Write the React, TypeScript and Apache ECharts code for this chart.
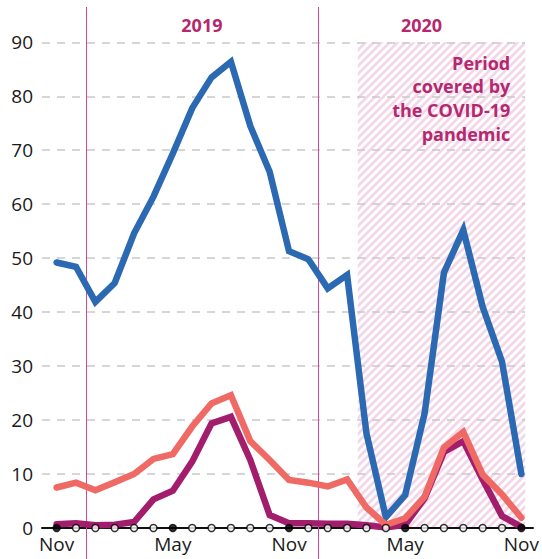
import React, { useEffect, useRef } from "react";
import * as echarts from "echarts";

// Months from Nov 2018 to Nov 2020
const months = [
  "Nov", "Dec", "Jan", "Feb", "Mar", "Apr", "May", "Jun", "Jul", "Aug", "Sep", "Oct",
  "Nov", "Dec", "Jan", "Feb", "Mar", "Apr", "May", "Jun", "Jul", "Aug", "Sep", "Oct", "Nov",
];
const labeledMonths = ["Nov", "May"];

const blueValues = [
  49.2, 48.4, 41.9, 45.4, 54.6, 61.4, 69.4, 77.8, 83.5, 86.4, 74.5, 66.0,
  51.3, 49.8, 44.4, 46.9, 17.5, 2.0, 6.1, 21.2, 47.3, 55.2, 41.0, 30.8, 10.0,
];
const purpleValues = [
  0.7, 0.9, 0.5, 0.6, 1.1, 5.3, 6.9, 12.3, 19.4, 20.6, 12.6, 2.4,
  0.9, 0.9, 0.8, 0.8, 0.5, 0.1, 0.6, 5.5, 14.1, 16.1, 9.0, 2.2, 0.2,
];
const salmonValues = [
  7.5, 8.4, 7.0, 8.5, 10.0, 12.8, 13.7, 18.8, 23.1, 24.6, 16.1, 12.6,
  8.9, 8.4, 7.7, 9.0, 3.8, 0.6, 1.8, 5.8, 14.9, 17.8, 9.9, 6.2, 1.9,
];

const yTicks = [0, 10, 20, 30, 40, 50, 60, 70, 80, 90];
const years = ["2019", "2020"];
const yearBoundaries = [1.5, 13.5]; // between Dec and Jan
const covidPeriod = [15.55, 24.2]; // mid-Feb 2020 onwards
const covidNote = "Period\ncovered by\nthe COVID-19\npandemic";

const X_MIN = -0.756;
const X_MAX = 24.6;
const GRID_END = 24.19;

const FONT = '"Open Sans", "Noto Sans", sans-serif';
const MAGENTA_TEXT = "#b5286f";
const MAGENTA_LINE = "#d6449a";

function makeHatch(): string {
  const t = 8;
  const cv = document.createElement("canvas");
  cv.width = t;
  cv.height = t;
  const ctx = cv.getContext("2d")!;
  ctx.fillStyle = "#ffffff";
  ctx.fillRect(0, 0, t, t);
  ctx.strokeStyle = "#f3d6e8";
  ctx.lineWidth = 2.7;
  ctx.beginPath();
  ctx.moveTo(-2, t + 2);
  ctx.lineTo(t + 2, -2);
  ctx.moveTo(-2, 2);
  ctx.lineTo(2, -2);
  ctx.moveTo(t - 2, t + 2);
  ctx.lineTo(t + 2, t - 2);
  ctx.stroke();
  return cv.toDataURL();
}

export default function App() {
  const ref = useRef<HTMLDivElement>(null);

  useEffect(() => {
    document.body.style.margin = "0";
    const chart = echarts.init(ref.current!, null, { renderer: "svg" });
    const hatch = makeHatch();
    const idx = months.map((_, i) => i);
    const toPairs = (vals: number[]) => vals.map((v, i) => [i, v]);

    const gridMarkLines = yTicks
      .filter((v) => v > 0)
      .map((v) => [
        { coord: [X_MIN, v] },
        { coord: [GRID_END, v] },
      ]);

    chart.setOption({
      animation: false,
      grid: { left: 42, right: 7, top: 42.3, bottom: 31, containLabel: false },
      xAxis: {
        type: "value",
        min: X_MIN,
        max: X_MAX,
        z: 1,
        splitLine: { show: false },
        axisTick: { show: false },
        axisLine: { show: true, lineStyle: { color: "#111", width: 2 } },
        axisLabel: {
          customValues: idx.filter((i) => labeledMonths.includes(months[i])),
          formatter: (v: number) => months[Math.round(v)] ?? "",
          fontSize: 19,
          fontFamily: FONT,
          color: "#1a1a1a",
          margin: 6,
        },
      },
      yAxis: {
        type: "value",
        min: 0,
        max: 90,
        interval: 10,
        splitLine: { show: false },
        axisLine: { show: false },
        axisTick: { show: false },
        axisLabel: {
          fontSize: 19,
          fontFamily: FONT,
          color: "#1a1a1a",
          margin: 9,
        },
      },
      series: [
        {
          type: "line",
          z: 0,
          data: [],
          silent: true,
          markArea: {
            silent: true,
            z: 0,
            itemStyle: {
              color: { image: hatch, repeat: "repeat", imageWidth: 8, imageHeight: 8 },
              borderWidth: 0,
            },
            data: [[{ coord: [covidPeriod[0], 90] }, { coord: [covidPeriod[1], 0] }]],
          },
        },
        {
          type: "line",
          z: 1,
          data: [],
          silent: true,
          markLine: {
            silent: true,
            z: 1,
            symbol: "none",
            label: { show: false },
            lineStyle: { color: "#c9c9c9", width: 1.6, type: [8, 7] },
            data: gridMarkLines,
          },
        },
        {
          name: "blue",
          type: "line",
          z: 3,
          data: toPairs(blueValues),
          symbol: "none",
          lineStyle: { color: "#2b69b2", width: 6.5, cap: "round", join: "miter" },
        },
        {
          name: "purple",
          type: "line",
          z: 3,
          data: toPairs(purpleValues),
          symbol: "none",
          lineStyle: { color: "#a31d6d", width: 6.5, cap: "round", join: "miter" },
        },
        {
          name: "salmon",
          type: "line",
          z: 3,
          data: toPairs(salmonValues),
          symbol: "none",
          lineStyle: { color: "#ef6a64", width: 6.5, cap: "round", join: "miter" },
        },
        {
          type: "scatter",
          z: 5,
          symbol: "circle",
          symbolSize: 7,
          data: idx.map((i) => ({
            value: [i, 0],
            itemStyle: {
              color: labeledMonths.includes(months[i]) ? "#000" : "#fff",
              borderColor: "#000",
              borderWidth: 1.5,
            },
          })),
        },
      ],
    });

    const px = (x: number, y: number) =>
      chart.convertToPixel({ gridIndex: 0 }, [x, y]) as number[];

    const graphics: any[] = [];
    yearBoundaries.forEach((b) => {
      const x = Math.round(px(b, 0)[0]) + 0.5;
      graphics.push({
        type: "line",
        z: 2,
        shape: { x1: x, y1: 7, x2: x, y2: 559 },
        style: { stroke: MAGENTA_LINE, lineWidth: 1 },
        silent: true,
      });
    });
    const yearEdges = [yearBoundaries[0], yearBoundaries[1], GRID_END];
    years.forEach((yr, i) => {
      const cx = (px(yearEdges[i], 0)[0] + px(yearEdges[i + 1], 0)[0]) / 2;
      graphics.push({
        type: "text",
        z: 10,
        x: cx,
        y: 25,
        style: {
          text: yr,
          fill: MAGENTA_TEXT,
          font: `bold 18px ${FONT}`,
          align: "center",
          verticalAlign: "middle",
        },
      });
    });
    const noteRight = px(covidPeriod[1], 0)[0] - 15;
    graphics.push({
      type: "text",
      z: 10,
      x: noteRight,
      y: 51,
      style: {
        text: covidNote,
        fill: MAGENTA_TEXT,
        font: `bold 18px ${FONT}`,
        lineHeight: 23.6,
        align: "right",
        verticalAlign: "top",
      },
    });
    chart.setOption({ graphic: graphics });

    return () => chart.dispose();
  }, []);

  return <div ref={ref} style={{ width: 542, height: 559 }} />;
}
